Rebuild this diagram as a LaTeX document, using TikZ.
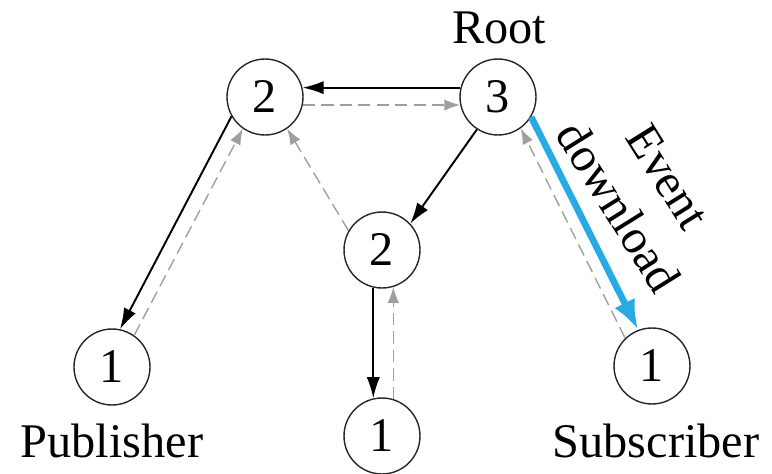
\documentclass[tikz,border=0pt]{standalone}
\usepackage{fontspec}
\setmainfont{Liberation Serif}
\usetikzlibrary{arrows.meta}
\definecolor{evblue}{RGB}{41,170,226}
\begin{document}
\begin{tikzpicture}[x=0.02cm,y=-0.02cm,
  font=\fontsize{27.5}{33}\selectfont,
  peer/.style={circle,draw=black!85,line width=0.8pt,minimum size=1.52cm,inner sep=0pt},
  fwd/.style={line width=1.1pt,-{Latex[length=12pt,width=7.5pt]}},
  back/.style={gray!75,line width=0.8pt,dash pattern=on 7pt off 3.5pt,-{Latex[length=9pt,width=6.5pt]}},
  event/.style={evblue,line width=3.8pt,-{Latex[length=17pt,width=13pt]}}]
\useasboundingbox (0,0) rectangle (772,474);
\node[peer] (R) at (498,97) {3};
\node[peer] (A) at (265,97) {2};
\node[peer] (B) at (382,250) {2};
\node[peer] (P) at (112,367) {1};
\node[peer] (L) at (382,436) {1};
\node[peer] (S) at (652,366) {1};
\node[anchor=base] (Rlbl) at (499,43) {Root};
\node[anchor=base] (Plbl) at (112,457) {Publisher};
\node[anchor=base] (Slbl) at (656,457) {Subscriber};
\node[rotate=-58,align=center] (Elbl) at (643,192) {Event\\download};
\draw [fwd] (R.166) -- (A.14);
\draw [back] (A.-12) -- (R.192);
\draw [fwd] (R.237) -- (B.43);
\draw [back] (B.150) -- (A.-55);
\draw [fwd] (A.210) -- (P.78);
\draw [back] (P.55) -- (A.235);
\draw [fwd] (B.-103) -- (L.103);
\draw [back] (L.73) -- (B.-73);
\draw [event] (R.-31) -- (S.111);
\draw [back] (S.134) -- (R.-54);
\end{tikzpicture}
\end{document}
